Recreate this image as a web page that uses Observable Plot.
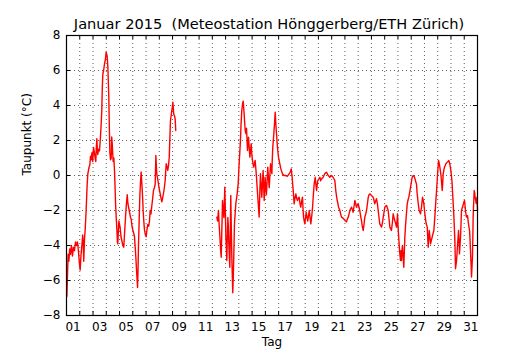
<!DOCTYPE html>
<html><head><meta charset="utf-8">
<script src="https://cdn.jsdelivr.net/npm/d3@7"></script>
<script src="https://cdn.jsdelivr.net/npm/@observablehq/plot@0.6"></script>
<style>body{margin:0;background:#fff} #chart svg{display:block}</style>
</head><body><div id="chart"></div>
<script>
const titel = "Januar 2015  (Meteostation Hönggerberg/ETH Zürich)";
const xLabel = "Tag";
const yLabel = "Taupunkt (°C)";
const tagLabels = ["01","03","05","07","09","11","13","15","17","19","21","23","25","27","29","31"];
const yTicks = [-8,-6,-4,-2,0,2,4,6,8];
const tagGrenzen = d3.range(1, 33);
// [Tag (Januar, gebrochen), Taupunkt °C]; null = Messlücke
const messungen = [
[1.03,-6.9],[1.12,-4.5],[1.18,-4.9],[1.24,-4.2],[1.30,-4.5],[1.37,-4.0],[1.45,-4.6],[1.52,-4.1],[1.60,-4.3],[1.68,-3.8],
[1.75,-4.0],[1.83,-3.8],[1.91,-4.4],[1.97,-5.0],[2.03,-5.4],[2.09,-4.6],[2.16,-4.0],[2.22,-3.4],[2.26,-3.8],[2.30,-4.9],
[2.36,-3.6],[2.41,-3.1],[2.48,-2.0],[2.56,-0.5],[2.61,0.1],[2.66,0.3],[2.71,0.5],[2.76,0.6],[2.81,1.1],[2.86,0.9],
[2.92,1.3],[2.98,0.8],[3.04,1.6],[3.11,1.3],[3.16,1.0],[3.21,0.8],[3.25,1.6],[3.29,2.1],[3.33,1.4],[3.36,1.2],
[3.42,1.5],[3.49,1.4],[3.56,2.2],[3.62,3.0],[3.66,3.7],[3.70,5.0],[3.74,5.8],[3.80,6.0],[3.87,6.4],[3.93,6.6],
[3.99,7.05],[4.04,6.9],[4.07,6.8],[4.12,6.2],[4.19,4.5],[4.23,2.8],[4.27,1.3],[4.32,0.9],[4.37,1.0],[4.41,2.2],
[4.45,1.8],[4.49,1.2],[4.52,0.8],[4.57,1.0],[4.62,0.3],[4.66,-0.6],[4.70,-1.6],[4.75,-2.4],[4.80,-3.1],[4.84,-3.8],
[4.87,-3.9],[4.91,-3.2],[4.95,-2.6],[5.00,-2.8],[5.05,-3.0],[5.11,-3.5],[5.17,-3.7],[5.25,-4.0],[5.32,-4.1],[5.38,-3.3],
[5.45,-2.4],[5.52,-1.6],[5.58,-1.1],[5.63,-1.6],[5.68,-1.8],[5.73,-2.0],[5.78,-2.2],[5.83,-2.4],[5.88,-2.5],[5.94,-2.9],
[6.00,-3.1],[6.07,-3.3],[6.13,-3.5],[6.17,-4.0],[6.20,-4.3],[6.24,-4.8],[6.28,-5.4],[6.32,-5.9],[6.36,-6.4],[6.40,-5.2],
[6.43,-4.0],[6.48,-2.6],[6.53,-1.2],[6.58,-0.4],[6.63,0.2],[6.67,-0.3],[6.71,-0.8],[6.75,-1.4],[6.78,-2.0],[6.83,-2.6],
[6.88,-3.1],[6.95,-3.4],[7.01,-3.5],[7.07,-3.1],[7.13,-2.8],[7.20,-2.9],[7.26,-2.6],[7.31,-2.0],[7.37,-2.2],[7.44,-1.7],
[7.50,-1.3],[7.56,-0.86],[7.63,-0.7],[7.69,-0.5],[7.74,1.14],[7.78,0.5],[7.81,0.1],[7.88,-0.2],[7.94,-0.5],[8.00,-0.8],
[8.07,-1.05],[8.13,-1.3],[8.19,-1.5],[8.25,-1.3],[8.32,-1.0],[8.38,-0.7],[8.44,-0.3],[8.48,0.2],[8.52,0.67],[8.58,0.5],
[8.64,0.3],[8.70,0.6],[8.75,1.05],[8.80,2.2],[8.84,3.14],[8.89,3.4],[8.94,3.7],[8.98,3.9],[9.02,4.19],[9.06,3.8],
[9.09,3.5],[9.15,3.4],[9.20,3.2],[9.24,2.57],
[10.8,null],
[12.34,-2.38],[12.40,-2.6],[12.46,-2.0],[12.52,-2.9],[12.57,-3.5],[12.62,-4.2],[12.67,-4.67],[12.72,-3.0],[12.77,-1.43],[12.82,-2.0],
[12.87,-2.4],[12.91,-1.5],[12.94,-0.67],[12.98,-2.0],[13.02,-3.5],[13.06,-4.2],[13.09,-4.86],[13.13,-3.5],[13.17,-2.4],[13.21,-3.0],
[13.24,-3.8],[13.28,-4.6],[13.32,-5.24],[13.36,-3.0],[13.39,-1.14],[13.43,-3.0],[13.47,-4.67],[13.51,-5.8],[13.54,-6.7],[13.58,-5.8],
[13.62,-4.5],[13.67,-2.76],[13.77,-1.62],[13.87,-1.05],[13.95,-0.48],[14.02,0.67],[14.07,1.3],[14.12,2.0],[14.17,3.0],[14.22,3.7],
[14.28,4.1],[14.33,4.25],[14.40,3.5],[14.44,3.0],[14.48,2.57],[14.53,2.4],[14.58,2.7],[14.65,1.43],[14.69,1.8],[14.73,2.19],
[14.78,1.6],[14.83,1.05],[14.88,1.4],[14.93,1.81],[14.98,1.2],[15.03,0.86],[15.08,0.6],[15.13,0.48],[15.18,0.7],[15.23,0.86],
[15.28,0.4],[15.33,-0.1],[15.38,-0.7],[15.43,-1.24],[15.48,-1.8],[15.53,-2.38],[15.58,-1.0],[15.63,0.1],[15.68,-0.5],[15.73,-1.24],
[15.78,-0.5],[15.83,0.29],[15.87,-0.6],[15.91,-1.43],[15.95,-0.8],[15.98,-0.1],[16.03,-0.6],[16.08,-1.1],[16.13,-0.3],[16.18,0.48],
[16.23,-0.1],[16.29,-0.7],[16.34,0.0],[16.39,0.67],[16.44,0.4],[16.49,0.1],[16.52,0.9],[16.56,1.62],[16.62,2.2],[16.67,2.76],
[16.71,3.2],[16.74,3.62],[16.78,3.1],[16.82,2.57],[16.86,2.2],[16.89,1.81],[16.94,1.4],[16.99,1.05],[17.04,0.85],[17.09,0.67],
[17.15,0.45],[17.20,0.29],[17.29,0.1],[17.40,0.0],[17.54,0.0],[17.65,-0.05],[17.80,0.1],[17.88,0.2],[17.95,0.38],[18.02,-0.1],
[18.06,-0.5],[18.10,-0.86],[18.14,-1.3],[18.17,-1.62],[18.23,-1.3],[18.30,-1.05],[18.36,-1.3],[18.42,-1.43],[18.48,-1.3],[18.55,-1.24],
[18.61,-1.6],[18.67,-1.81],[18.73,-1.5],[18.80,-1.24],[18.84,-1.9],[18.88,-2.38],[18.93,-2.6],[18.98,-2.76],[19.03,-2.4],[19.08,-2.1],
[19.14,-2.4],[19.20,-2.6],[19.25,-2.3],[19.31,-2.0],[19.37,-2.4],[19.43,-2.76],[19.50,-2.3],[19.56,-1.8],[19.62,-1.1],[19.68,-0.48],
[19.72,-0.3],[19.76,-0.1],[19.81,-0.5],[19.86,-0.86],[19.90,-0.6],[19.95,-0.3],[20.03,-0.2],[20.11,-0.1],[20.17,-0.3],[20.23,-0.2],
[20.30,-0.15],[20.36,-0.1],[20.42,0.0],[20.48,0.1],[20.55,0.15],[20.61,0.19],[20.67,0.1],[20.74,0.0],[20.80,-0.05],[20.86,-0.1],
[20.92,-0.05],[20.99,0.0],[21.05,-0.05],[21.11,-0.1],[21.18,-0.2],[21.24,-0.29],[21.31,-0.86],[21.37,-1.2],[21.42,-1.43],[21.47,-1.6],
[21.52,-1.81],[21.57,-1.9],[21.62,-2.0],[21.68,-2.2],[21.74,-2.38],[21.80,-2.4],[21.87,-2.45],[21.93,-2.5],[21.99,-2.57],[22.05,-2.6],
[22.12,-2.65],[22.18,-2.5],[22.25,-2.38],[22.31,-2.2],[22.37,-2.0],[22.43,-1.9],[22.50,-1.81],[22.56,-1.95],[22.62,-2.1],[22.68,-1.8],
[22.75,-1.43],[22.81,-1.6],[22.87,-1.81],[22.93,-1.7],[23.00,-1.62],[23.06,-1.8],[23.12,-2.0],[23.18,-2.3],[23.25,-2.57],[23.31,-2.9],
[23.38,-3.14],[23.44,-2.8],[23.50,-2.38],[23.57,-2.2],[23.63,-2.0],[23.70,-1.6],[23.76,-1.24],[23.82,-1.1],[23.88,-1.05],[23.95,-1.1],
[24.01,-1.14],[24.07,-1.2],[24.13,-1.24],[24.19,-1.4],[24.25,-1.62],[24.32,-1.45],[24.38,-1.33],[24.45,-1.6],[24.51,-2.0],[24.57,-2.4],
[24.63,-2.76],[24.70,-2.85],[24.76,-2.95],[24.83,-2.7],[24.89,-2.38],[24.95,-2.1],[25.01,-1.81],[25.08,-1.75],[25.14,-1.71],[25.20,-1.85],
[25.26,-2.0],[25.33,-2.5],[25.39,-2.95],[25.45,-3.05],[25.51,-3.14],[25.58,-2.7],[25.64,-2.19],[25.70,-2.4],[25.76,-2.57],[25.83,-2.75],
[25.89,-2.95],[25.93,-2.6],[25.97,-2.19],[26.00,-2.8],[26.04,-3.33],[26.08,-3.8],[26.12,-4.29],[26.16,-4.6],[26.19,-4.86],[26.23,-4.3],
[26.27,-4.86],[26.30,-4.3],[26.34,-4.0],[26.39,-4.6],[26.44,-5.24],[26.48,-4.4],[26.52,-3.52],[26.57,-2.9],[26.62,-2.38],[26.66,-2.0],
[26.70,-1.62],[26.76,-1.4],[26.82,-1.24],[26.89,-0.95],[26.95,-0.67],[27.01,-0.4],[27.07,-0.1],[27.15,0.0],[27.25,-0.1],[27.32,-0.29],
[27.40,-0.5],[27.45,-1.05],[27.53,-1.6],[27.60,-2.0],[27.70,-2.19],[27.78,-1.8],[27.85,-1.24],[27.90,-1.4],[27.95,-1.6],[28.03,-2.19],
[28.08,-2.5],[28.13,-2.76],[28.21,-2.95],[28.28,-4.1],[28.32,-3.6],[28.36,-3.14],[28.41,-3.5],[28.46,-3.9],[28.52,-3.7],[28.58,-3.52],
[28.65,-3.3],[28.71,-3.14],[28.78,-2.38],[28.86,-1.43],[28.91,-0.9],[28.96,-0.29],[29.01,0.3],[29.06,0.86],[29.11,0.7],[29.16,0.48],
[29.21,0.2],[29.26,-0.1],[29.30,-0.5],[29.34,-0.86],[29.38,-0.4],[29.41,0.1],[29.46,0.3],[29.51,0.48],[29.56,0.55],[29.61,0.67],
[29.66,0.7],[29.71,0.76],[29.78,0.8],[29.84,0.86],[29.91,0.67],[29.99,0.29],[30.07,-0.29],[30.14,-1.24],[30.18,-1.8],[30.22,-2.38],
[30.26,-3.1],[30.30,-3.9],[30.34,-5.33],[30.38,-5.1],[30.42,-4.86],[30.46,-4.4],[30.49,-4.0],[30.53,-3.6],[30.57,-3.14],[30.61,-3.8],
[30.64,-4.48],[30.68,-4.0],[30.72,-3.5],[30.76,-2.7],[30.79,-2.0],[30.83,-1.9],[30.87,-1.8],[30.91,-1.7],[30.94,-1.62],[30.98,-1.5],
[31.02,-1.43],[31.06,-1.7],[31.09,-2.0],[31.13,-2.2],[31.17,-2.38],[31.21,-2.3],[31.25,-2.3],[31.28,-2.5],[31.32,-2.76],[31.36,-2.95],
[31.40,-3.14],[31.44,-3.7],[31.47,-4.29],[31.51,-5.0],[31.55,-5.8],[31.58,-5.3],[31.62,-4.67],[31.65,-3.5],[31.67,-2.38],[31.71,-1.6],
[31.75,-0.86],[31.79,-1.0],[31.82,-1.24],[31.86,-1.4],[31.90,-1.6],[31.94,-1.4],[31.97,-1.24],[32.00,-2.0]
];
const data = messungen.map(([t, v]) => ({t, v}));
const fmtY = d => d < 0 ? "\u2212" + (-d) : String(d);
const gridStyle = {stroke: "black", strokeOpacity: 0.9, strokeWidth: 0.7, strokeDasharray: "1,3"};
const W = 530, H = 350, mL = 66, mR = 53, mT = 35, mB = 35;
const fw = W - mL - mR, fh = H - mT - mB, tl = 4;

const chart = Plot.plot({
  width: W, height: H,
  marginLeft: mL, marginRight: mR, marginTop: mT, marginBottom: mB,
  style: {fontFamily: "'DejaVu Sans', sans-serif", fontSize: "12px", color: "black", background: "white", overflow: "visible"},
  x: {domain: [1, 32], axis: null},
  y: {domain: [-8, 8], axis: null},
  marks: [
    Plot.gridX(tagGrenzen, gridStyle),
    Plot.gridY(yTicks, gridStyle),
    Plot.line(data, {x: "t", y: "v", stroke: "#ff0000", strokeWidth: 1.4}),
    Plot.tickX(tagGrenzen, {x: d => d, insetTop: fh - tl, stroke: "black"}),
    Plot.tickX(tagGrenzen, {x: d => d, insetBottom: fh - tl, stroke: "black"}),
    Plot.tickY(yTicks, {y: d => d, insetRight: fw - tl, stroke: "black"}),
    Plot.tickY(yTicks, {y: d => d, insetLeft: fw - tl, stroke: "black"}),
    Plot.frame({stroke: "black", strokeWidth: 1.2}),
    Plot.text(tagLabels, {x: d => +d + 0.5, frameAnchor: "bottom", dy: 7, lineAnchor: "top", text: d => d, fontSize: 12}),
    Plot.text(yTicks, {y: d => d, frameAnchor: "left", dx: -6, textAnchor: "end", text: fmtY, fontSize: 12}),
    Plot.text([xLabel], {frameAnchor: "bottom", dy: 30.5, lineAnchor: "bottom", text: d => d, fontSize: 12}),
    Plot.text([yLabel], {frameAnchor: "left", dx: -39, rotate: -90, text: d => d, fontSize: 12}),
    Plot.text([titel], {frameAnchor: "top", dy: -7, dx: -3, lineAnchor: "bottom", text: d => d, fontSize: 14.6})
  ]
});
document.getElementById("chart").appendChild(chart);
</script>
</body></html>
